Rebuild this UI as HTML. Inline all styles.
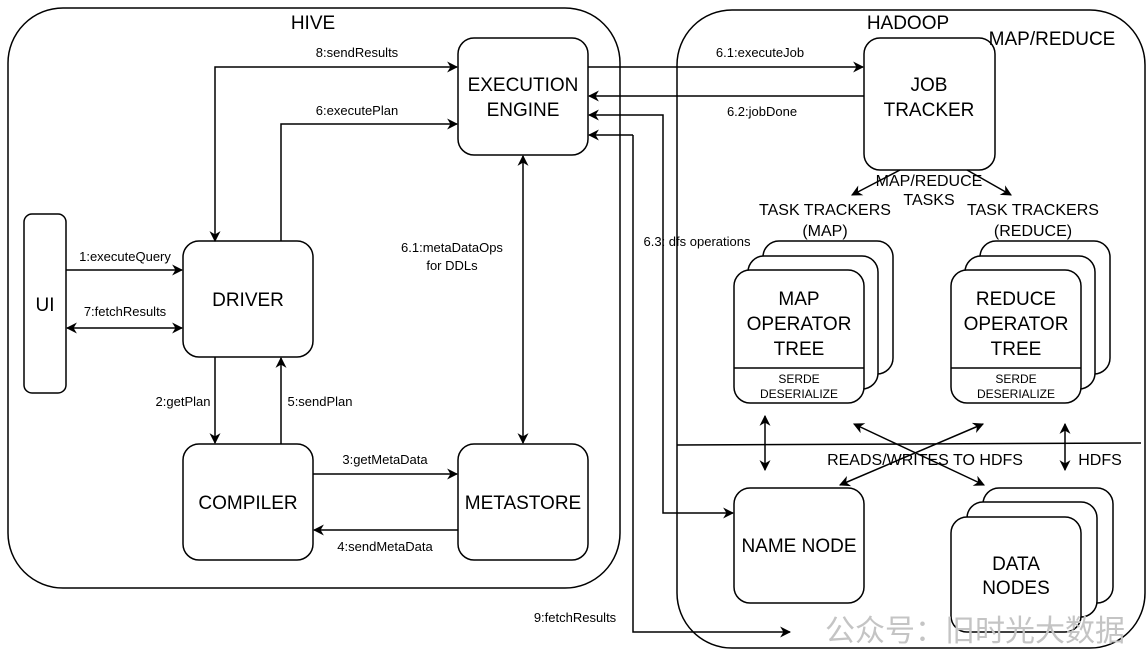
<!DOCTYPE html>
<html><head><meta charset="utf-8"><style>
html,body{margin:0;padding:0;background:#fff;}
svg text{font-family:"Liberation Sans",Arial,sans-serif;fill:#000;}
</style></head><body>
<svg width="1147" height="654" viewBox="0 0 1147 654" xmlns="http://www.w3.org/2000/svg">
<defs>
<marker id="a" viewBox="0 0 10 10" refX="9" refY="5" markerWidth="11" markerHeight="11" orient="auto-start-reverse" markerUnits="userSpaceOnUse">
<path d="M0,0 L10,5 L0,10 L3,5 z" fill="#000"/></marker>
</defs>
<g fill="none" stroke="#000" stroke-width="1.5">
<rect x="8" y="8" width="612" height="580" rx="55"/>
<rect x="677" y="10" width="468" height="638" rx="55"/>
<line x1="677" y1="445" x2="1141" y2="443"/>
<rect x="458" y="38" width="130" height="117" rx="16"/>
<rect x="864" y="38" width="131" height="132" rx="16"/>
<rect x="183" y="241" width="130" height="116" rx="16"/>
<rect x="183" y="444" width="130" height="116" rx="16"/>
<rect x="458" y="444" width="130" height="116" rx="16"/>
<rect x="24" y="214" width="42" height="179" rx="8"/>
<rect x="763" y="241" width="130" height="133" rx="16" fill="#fff"/>
<rect x="748" y="256" width="130" height="133" rx="16" fill="#fff"/>
<rect x="734" y="270" width="130" height="133" rx="16" fill="#fff"/>
<line x1="734" y1="368" x2="864" y2="368"/>
<rect x="980" y="241" width="130" height="133" rx="16" fill="#fff"/>
<rect x="965" y="256" width="130" height="133" rx="16" fill="#fff"/>
<rect x="951" y="270" width="130" height="133" rx="16" fill="#fff"/>
<line x1="951" y1="368" x2="1081" y2="368"/>
<rect x="734" y="488" width="130" height="115" rx="16"/>
<rect x="983" y="488" width="130" height="115" rx="16" fill="#fff"/>
<rect x="967" y="502" width="130" height="115" rx="16" fill="#fff"/>
<rect x="951" y="517" width="130" height="115" rx="16" fill="#fff"/>
</g>
<g fill="none" stroke="#000" stroke-width="1.5">
<polyline points="215,241 215,67 457,67" marker-start="url(#a)" marker-end="url(#a)"/>
<polyline points="281,241 281,124 457,124" marker-end="url(#a)"/>
<line x1="66" y1="270" x2="182" y2="270" marker-end="url(#a)"/>
<line x1="67" y1="328" x2="182" y2="328" marker-start="url(#a)" marker-end="url(#a)"/>
<line x1="215" y1="357" x2="215" y2="443" marker-end="url(#a)"/>
<line x1="281" y1="444" x2="281" y2="358" marker-end="url(#a)"/>
<line x1="313" y1="474" x2="457" y2="474" marker-end="url(#a)"/>
<line x1="458" y1="530" x2="314" y2="530" marker-end="url(#a)"/>
<line x1="523" y1="156" x2="523" y2="443" marker-start="url(#a)" marker-end="url(#a)"/>
<line x1="588" y1="67" x2="863" y2="67" marker-end="url(#a)"/>
<line x1="864" y1="96" x2="589" y2="96" marker-end="url(#a)"/>
<polyline points="733,513 663,513 663,115 589,115" marker-start="url(#a)" marker-end="url(#a)"/>
<polyline points="633,135 633,632 790,632" marker-end="url(#a)"/>
<polyline points="633,135 589,135" marker-end="url(#a)"/>
<line x1="900" y1="170" x2="852" y2="195" marker-end="url(#a)"/>
<line x1="967" y1="170" x2="1011" y2="195" marker-end="url(#a)"/>
<line x1="765" y1="416" x2="765" y2="470" marker-start="url(#a)" marker-end="url(#a)"/>
<line x1="1065" y1="424" x2="1065" y2="470" marker-start="url(#a)" marker-end="url(#a)"/>
<line x1="854" y1="424" x2="984" y2="485" marker-start="url(#a)" marker-end="url(#a)"/>
<line x1="983" y1="424" x2="840" y2="485" marker-start="url(#a)" marker-end="url(#a)"/>
</g>
<g font-size="19" text-anchor="middle">
<text x="313" y="29">HIVE</text>
<text x="908" y="29">HADOOP</text>
<text x="1052" y="45">MAP/REDUCE</text>
<text x="523" y="91">EXECUTION</text>
<text x="523" y="116">ENGINE</text>
<text x="929" y="91">JOB</text>
<text x="929" y="116">TRACKER</text>
<text x="248" y="306">DRIVER</text>
<text x="248" y="509">COMPILER</text>
<text x="523" y="509">METASTORE</text>
<text x="45" y="311">UI</text>
<text x="799" y="305">MAP</text>
<text x="799" y="330">OPERATOR</text>
<text x="799" y="355">TREE</text>
<text x="1016" y="305">REDUCE</text>
<text x="1016" y="330">OPERATOR</text>
<text x="1016" y="355">TREE</text>
<text x="799" y="552">NAME NODE</text>
<text x="1016" y="570">DATA</text>
<text x="1016" y="594">NODES</text>
</g>
<g font-size="16" text-anchor="middle">
<text x="825" y="215">TASK TRACKERS</text>
<text x="825" y="236">(MAP)</text>
<text x="1033" y="215">TASK TRACKERS</text>
<text x="1033" y="236">(REDUCE)</text>
<text x="929" y="186">MAP/REDUCE</text>
<text x="929" y="205">TASKS</text>
<text x="925" y="465">READS/WRITES TO HDFS</text>
<text x="1100" y="465">HDFS</text>
</g>
<g font-size="12" text-anchor="middle">
<text x="799" y="383">SERDE</text>
<text x="799" y="398">DESERIALIZE</text>
<text x="1016" y="383">SERDE</text>
<text x="1016" y="398">DESERIALIZE</text>
</g>
<g font-size="13" text-anchor="middle">
<text x="357" y="57">8:sendResults</text>
<text x="357" y="115">6:executePlan</text>
<text x="125" y="261">1:executeQuery</text>
<text x="125" y="316">7:fetchResults</text>
<text x="183" y="406">2:getPlan</text>
<text x="320" y="406">5:sendPlan</text>
<text x="385" y="464">3:getMetaData</text>
<text x="385" y="551">4:sendMetaData</text>
<text x="452" y="252">6.1:metaDataOps</text>
<text x="452" y="270">for DDLs</text>
<text x="760" y="57">6.1:executeJob</text>
<text x="762" y="116">6.2:jobDone</text>
<text x="697" y="246">6.3: dfs operations</text>
<text x="575" y="622">9:fetchResults</text>
</g>
<text x="975" y="641" font-size="30" text-anchor="middle" style="font-family:'Liberation Sans','Noto Sans CJK SC',sans-serif;fill:#c4c4c4">公众号：旧时光大数据</text>
</svg>
</body></html>
